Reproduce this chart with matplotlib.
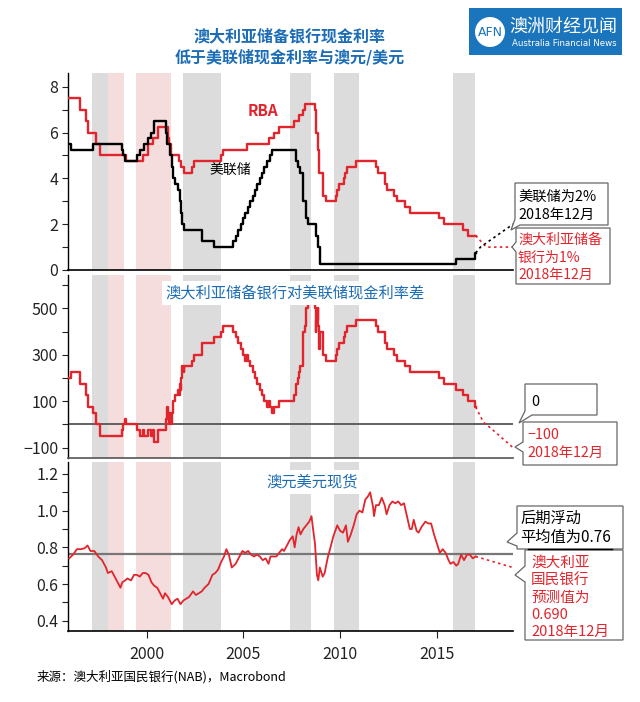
import matplotlib
matplotlib.use("Agg")
import matplotlib.pyplot as plt
import numpy as np
from matplotlib.patches import Polygon, Rectangle, Circle

plt.rcParams["font.family"] = ["Noto Sans CJK SC", "DejaVu Sans"]

# ---- data ----
rba_dates = [1996.0, 1996.58, 1996.85, 1996.95, 1997.4, 1997.58, 1998.92, 1999.84,
             2000.09, 2000.34, 2000.58, 2001.1, 2001.17, 2001.26, 2001.68, 2001.76,
             2001.93, 2002.34, 2002.43, 2003.84, 2003.93, 2005.17, 2006.35, 2006.59,
             2006.85, 2007.6, 2007.85, 2008.1, 2008.18, 2008.68, 2008.76, 2008.84,
             2008.93, 2009.1, 2009.26, 2009.76, 2009.84, 2009.93, 2010.18, 2010.26,
             2010.34, 2010.84, 2011.84, 2011.93, 2012.34, 2012.43, 2012.76, 2012.93,
             2013.35, 2013.6, 2015.1, 2015.34, 2016.34, 2016.59, 2017.0]
rba_rate = [7.5, 7.0, 6.5, 6.0, 5.5, 5.0, 4.75, 5.0,
            5.5, 5.75, 6.25, 5.75, 5.5, 5.0, 4.75, 4.5,
            4.25, 4.5, 4.75, 5.0, 5.25, 5.5, 5.75, 6.0,
            6.25, 6.5, 6.75, 7.0, 7.25, 7.0, 6.0, 5.25,
            4.25, 3.25, 3.0, 3.25, 3.5, 3.75, 4.0, 4.25,
            4.5, 4.75, 4.5, 4.25, 3.75, 3.5, 3.25, 3.0,
            2.75, 2.5, 2.25, 2.0, 1.75, 1.5, 1.5]

fed_dates = [1996.0, 1996.08, 1997.23, 1998.75, 1998.79, 1998.88, 1999.5, 1999.65,
             1999.88, 2000.09, 2000.22, 2000.38, 2001.01, 2001.08, 2001.22, 2001.3,
             2001.38, 2001.49, 2001.64, 2001.72, 2001.8, 2001.85, 2001.95, 2002.85,
             2003.49, 2004.49, 2004.61, 2004.72, 2004.86, 2004.96, 2005.09, 2005.22,
             2005.34, 2005.5, 2005.61, 2005.72, 2005.84, 2005.96, 2006.08, 2006.22,
             2006.36, 2006.49, 2007.71, 2007.83, 2007.95, 2008.06, 2008.08, 2008.21,
             2008.33, 2008.77, 2008.83, 2008.96, 2015.96, 2016.96, 2017.0]
fed_rate = [5.5, 5.25, 5.5, 5.25, 5.0, 4.75, 5.0, 5.25,
            5.5, 5.75, 6.0, 6.5, 6.0, 5.5, 5.0, 4.5,
            4.0, 3.75, 3.5, 3.0, 2.5, 2.0, 1.75, 1.25,
            1.0, 1.25, 1.5, 1.75, 2.0, 2.25, 2.5, 2.75,
            3.0, 3.25, 3.5, 3.75, 4.0, 4.25, 4.5, 4.75,
            5.0, 5.25, 4.75, 4.5, 4.25, 3.5, 3.0, 2.25,
            2.0, 1.5, 1.0, 0.25, 0.5, 0.75, 0.75]

# NAB forecast paths to Dec 2018
rba_fc_dates = [2017.0, 2017.55, 2018.93]
rba_fc_rate = [1.5, 1.0, 1.0]
fed_fc_dates = [2017.0, 2017.25, 2018.93]
fed_fc_rate = [0.75, 1.0, 2.0]
spread_fc_dates = [2017.0, 2017.4, 2017.9, 2018.93]
spread_fc_bp = [75, 10, -25, -100]

aud_dates = [1996.0, 1996.2, 1996.4, 1996.6, 1996.8, 1996.95, 1997.1, 1997.3, 1997.5,
             1997.7, 1997.9, 1998.0, 1998.2, 1998.4, 1998.55, 1998.65, 1998.75, 1998.9,
             1999.0, 1999.2, 1999.35, 1999.5, 1999.65, 1999.8, 1999.95, 2000.1, 2000.25,
             2000.4, 2000.55, 2000.7, 2000.85, 2000.95, 2001.1, 2001.3, 2001.45, 2001.6,
             2001.75, 2001.9, 2002.05, 2002.2, 2002.4, 2002.55, 2002.7, 2002.85, 2003.0,
             2003.2, 2003.4, 2003.55, 2003.7, 2003.85, 2004.0, 2004.12, 2004.25, 2004.4,
             2004.5, 2004.6, 2004.8, 2004.95, 2005.1, 2005.25, 2005.4, 2005.55, 2005.7,
             2005.85, 2006.0, 2006.15, 2006.3, 2006.4, 2006.55, 2006.7, 2006.85, 2007.0,
             2007.1, 2007.25, 2007.4, 2007.55, 2007.65, 2007.75, 2007.85, 2007.95, 2008.1,
             2008.25, 2008.4, 2008.52, 2008.6, 2008.7, 2008.8, 2008.87, 2008.95, 2009.1,
             2009.2, 2009.35, 2009.5, 2009.65, 2009.85, 2010.0, 2010.15, 2010.3, 2010.4,
             2010.55, 2010.7, 2010.85, 2011.0, 2011.15, 2011.3, 2011.45, 2011.55, 2011.7,
             2011.75, 2011.85, 2012.0, 2012.15, 2012.3, 2012.4, 2012.55, 2012.7, 2012.85,
             2013.0, 2013.15, 2013.3, 2013.45, 2013.6, 2013.7, 2013.8, 2013.95, 2014.05,
             2014.2, 2014.4, 2014.55, 2014.7, 2014.85, 2015.0, 2015.15, 2015.3, 2015.45,
             2015.6, 2015.7, 2015.85, 2016.0, 2016.1, 2016.25, 2016.4, 2016.55, 2016.7,
             2016.85, 2017.0]
aud_usd = [0.74, 0.76, 0.79, 0.79, 0.795, 0.81, 0.78, 0.78, 0.75,
           0.73, 0.69, 0.66, 0.67, 0.63, 0.60, 0.58, 0.61, 0.62,
           0.63, 0.62, 0.65, 0.65, 0.64, 0.66, 0.66, 0.65, 0.61,
           0.59, 0.58, 0.55, 0.52, 0.55, 0.53, 0.49, 0.51, 0.52,
           0.49, 0.51, 0.52, 0.53, 0.56, 0.54, 0.55, 0.56, 0.58,
           0.60, 0.65, 0.66, 0.68, 0.72, 0.75, 0.79, 0.76, 0.69,
           0.70, 0.71, 0.75, 0.78, 0.77, 0.78, 0.76, 0.75, 0.76,
           0.75, 0.73, 0.74, 0.71, 0.75, 0.75, 0.75, 0.77, 0.79,
           0.78, 0.81, 0.84, 0.86, 0.80, 0.87, 0.91, 0.87, 0.90,
           0.92, 0.94, 0.97, 0.90, 0.82, 0.65, 0.62, 0.69, 0.64,
           0.66, 0.74, 0.80, 0.86, 0.92, 0.89, 0.88, 0.92, 0.83,
           0.87, 0.92, 0.98, 1.00, 0.99, 1.06, 1.08, 1.10, 1.02,
           0.97, 1.03, 1.03, 1.07, 1.03, 0.98, 1.03, 1.05, 1.04,
           1.05, 1.03, 1.04, 0.97, 0.90, 0.90, 0.95, 0.89, 0.88,
           0.91, 0.94, 0.93, 0.93, 0.87, 0.82, 0.77, 0.79, 0.77,
           0.73, 0.71, 0.72, 0.70, 0.71, 0.76, 0.73, 0.76, 0.76,
           0.74, 0.75]
aud_fc_dates = [2017.0, 2018.93]
aud_fc = [0.75, 0.69]
aud_float_avg = 0.765

grey_bands = [(1997.16, 1998.02), (2001.87, 2003.83), (2007.42, 2008.50),
              (2009.67, 2010.99), (2015.85, 2016.96)]
pink_bands = [(1998.02, 1998.83), (1999.45, 2001.25)]

RED = "#e2242c"
BLUE = "#1c6db5"
GREY_BAND = "#dcdcdc"
PINK_BAND = "#f5dddd"
XLIM = (1995.94, 2018.93)


def step_value(dates, values, t):
    idx = np.searchsorted(dates, t, side="right") - 1
    return np.asarray(values)[idx]


spread_dates = np.union1d(rba_dates, fed_dates)
spread_bp = (step_value(rba_dates, rba_rate, spread_dates)
             - step_value(fed_dates, fed_rate, spread_dates)) * 100


def style_axis(ax, ylim, major, minor):
    ax.set_xlim(*XLIM)
    ax.set_ylim(*ylim)
    for b0, b1 in grey_bands:
        ax.axvspan(b0, b1, color=GREY_BAND, lw=0, zorder=0)
    for b0, b1 in pink_bands:
        ax.axvspan(b0, b1, color=PINK_BAND, lw=0, zorder=0)
    for side in ("top", "right"):
        ax.spines[side].set_visible(False)
    ax.spines["left"].set_linewidth(1.0)
    ax.spines["bottom"].set_linewidth(1.2)
    ax.set_yticks(major)
    ax.set_yticks(minor, minor=True)
    ax.tick_params(axis="y", which="both", direction="out", length=4, width=0.8,
                   labelsize=11.5, colors="#222222", pad=3)
    ax.set_xticks([])


fig = plt.figure(figsize=(6.4, 7.02), dpi=100)
W, H = 640, 702


def rect(top, bottom):
    return [68 / W, 1 - bottom / H, (513 - 68) / W, (bottom - top) / H]


# ---- panel 1: cash rates ----
ax1 = fig.add_axes(rect(73, 270))
style_axis(ax1, (0, 8.6), [0, 2, 4, 6, 8], [1, 3, 5, 7])
ax1.step(rba_dates, rba_rate, where="post", color=RED, lw=1.7, zorder=3)
ax1.step(fed_dates, fed_rate, where="post", color="black", lw=1.7, zorder=3)
ax1.plot(rba_fc_dates, rba_fc_rate, color=RED, lw=1.2, ls=(0, (1.5, 2)), zorder=3)
ax1.plot(fed_fc_dates, fed_fc_rate, color="black", lw=1.2, ls=(0, (1.5, 2)), zorder=3)
ax1.text(2006.0, 6.94, "RBA", color=RED, fontsize=11, fontweight="bold",
         ha="center", va="center")
ax1.text(2004.3, 4.37, "美联储", color="black", fontsize=10, ha="center", va="center")

# ---- panel 2: spread ----
ax2 = fig.add_axes(rect(275, 458))
style_axis(ax2, (-145, 644), [-100, 100, 300, 500], [0, 200, 400, 600])
ax2.spines["bottom"].set_color("#555555")
ax2.axhline(0, color="#555555", lw=1.3, zorder=2)
ax2.step(spread_dates, spread_bp, where="post", color=RED, lw=1.7, zorder=3)
ax2.plot(spread_fc_dates, spread_fc_bp, color=RED, lw=1.2, ls=(0, (1.5, 2)), zorder=3)
ax2.text(2007.69, 566, "澳大利亚储备银行对美联储现金利率差", color=BLUE, fontsize=11,
         ha="center", va="center", zorder=4,
         bbox=dict(facecolor="white", edgecolor="none", pad=2.5))

# ---- panel 3: AUD/USD ----
ax3 = fig.add_axes(rect(462, 631))
style_axis(ax3, (0.344, 1.265), [0.4, 0.6, 0.8, 1.0, 1.2], [0.5, 0.7, 0.9, 1.1])
ax3.set_yticklabels(["0.4", "0.6", "0.8", "1.0", "1.2"])
ax3.axhline(aud_float_avg, color="#777777", lw=1.6, zorder=2)
ax3.plot(aud_dates, aud_usd, color=RED, lw=1.3, zorder=3)
ax3.plot(aud_fc_dates, aud_fc, color=RED, lw=1.2, ls=(0, (1.5, 2)), zorder=3)
ax3.set_xticks([2000, 2005, 2010, 2015])
ax3.tick_params(axis="x", direction="out", length=5, width=0.8, labelsize=11.5,
                colors="#222222", pad=6)
ax3.text(2008.57, 1.156, "澳元美元现货", color=BLUE, fontsize=11, ha="center",
         va="center", zorder=4, bbox=dict(facecolor="white", edgecolor="none", pad=2.5))

# ---- overlay in pixel coordinates for titles, logo, callouts ----
ov = fig.add_axes([0, 0, 1, 1], zorder=10)
ov.set_xlim(0, W)
ov.set_ylim(H, 0)
ov.axis("off")

ov.text(290, 36, "澳大利亚储备银行现金利率", color=BLUE, fontsize=11.5,
        fontweight="bold", ha="center", va="center")
ov.text(290, 57, "低于美联储现金利率与澳元/美元", color=BLUE, fontsize=11.5,
        fontweight="bold", ha="center", va="center")

# logo
ov.add_patch(Rectangle((469, 8), 153, 47, facecolor="#1a75bc", edgecolor="none"))
ov.add_patch(Circle((490, 32), 15, facecolor="white", edgecolor="none"))
ov.text(490, 32, "AFN", color="#1a75bc", fontsize=9, ha="center", va="center",
        family=["DejaVu Sans"])
ov.text(563, 27, "澳洲财经见闻", color="white", fontsize=13, ha="center", va="center")
ov.text(564, 44, "Australia Financial News", color="white", fontsize=6.2,
        ha="center", va="center", family=["DejaVu Sans"])


def callout(pts, lines, colors, x_text, y_first, step=17.5, size=10.3):
    ov.add_patch(Polygon(pts, closed=True, facecolor="white", edgecolor="#666666",
                         lw=0.9, zorder=11))
    for i, (txt, col) in enumerate(zip(lines, colors)):
        ov.text(x_text, y_first + i * step, txt, color=col, fontsize=size,
                ha="left", va="center", zorder=12)


# panel 1 callouts
callout([(515, 183), (608, 183), (608, 225), (520, 225), (511, 230), (515, 219)],
        ["美联储为2%", "2018年12月"], ["black"] * 2, 518, 197)
callout([(516, 228), (610, 228), (610, 284), (516, 284), (516, 252), (512, 247), (516, 242)],
        ["澳大利亚储备", "银行为1%", "2018年12月"], [RED] * 3, 518, 240, size=10.1)

# panel 2 callouts
callout([(525, 384), (597, 384), (597, 415), (532, 415), (519, 423), (525, 411)],
        ["0"], ["black"], 531, 402)
callout([(523, 422), (617, 422), (617, 465), (523, 465), (523, 452), (515, 447), (523, 442)],
        ["−100", "2018年12月"], [RED] * 2, 527, 435)

# panel 3 callouts
callout([(517, 506), (623, 506), (623, 549), (517, 549), (517, 546), (507, 542), (517, 533)],
        ["后期浮动", "平均值为0.76"], ["black"] * 2, 520, 518, step=19, size=11)
ov.plot([528, 612], [549, 549], color="black", lw=1.0, zorder=12)
callout([(525, 550), (623, 550), (623, 640), (525, 640), (525, 582), (515, 575), (525, 566)],
        ["澳大利亚", "国民银行", "预测值为", "0.690", "2018年12月"], [RED] * 5,
        531, 563, step=17.3, size=10.5)

ov.text(37, 677, "来源：澳大利亚国民银行(NAB)，Macrobond", color="black",
        fontsize=9, ha="left", va="center")

fig.savefig("out.png", dpi=100)
plt.close(fig)
